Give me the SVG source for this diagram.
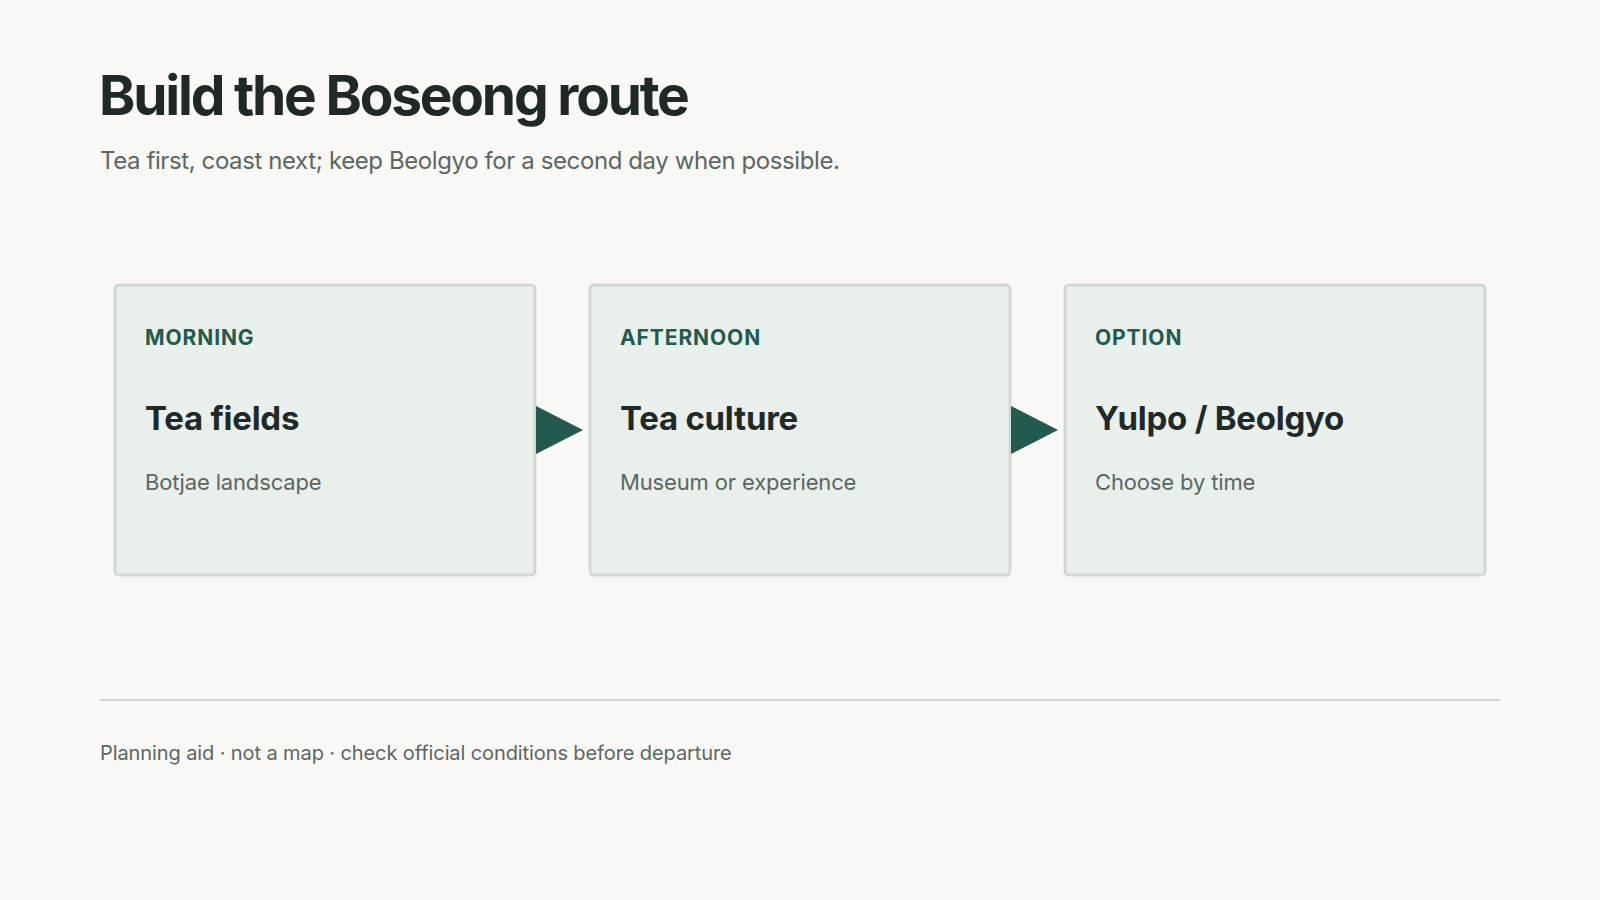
<svg xmlns="http://www.w3.org/2000/svg" width="1600" height="900" viewBox="0 0 1600 900">
<defs>
<style>
.bg{fill:#f9f8f5}
.box{fill:#e9efeb;stroke:#cfdad3;stroke-width:3}
.lab{font-family:Inter,"Liberation Sans",sans-serif;font-weight:700;font-size:21px;letter-spacing:0.9px;fill:#235a4f}
.ttl{font-family:Inter,"Liberation Sans",sans-serif;font-weight:700;font-size:33px;letter-spacing:-0.25px;fill:#1f2a28}
.sub{font-family:Inter,"Liberation Sans",sans-serif;font-weight:400;font-size:22px;letter-spacing:-0.15px;fill:#5b6762}
.arrow{fill:#235a4f}
</style>
</defs>
<rect class="bg" x="0" y="0" width="1600" height="900"/>
<text x="99" y="115" font-family="Inter,'Liberation Sans',sans-serif" font-weight="700" font-size="55" letter-spacing="-2.2" fill="#1f2a28">Build the Boseong route</text>
<text x="100" y="169" font-family="Inter,'Liberation Sans',sans-serif" font-size="24" letter-spacing="-0.4" fill="#5b6762">Tea first, coast next; keep Beolgyo for a second day when possible.</text>
<g id="node-morning">
<rect class="box" x="115" y="285" width="420" height="290" rx="4"/>
<text class="lab" x="145" y="345">MORNING</text>
<text class="ttl" x="145" y="430">Tea fields</text>
<text class="sub" x="145" y="490">Botjae landscape</text>
</g>
<g id="node-afternoon">
<rect class="box" x="590" y="285" width="420" height="290" rx="4"/>
<text class="lab" x="620" y="345">AFTERNOON</text>
<text class="ttl" x="620" y="430">Tea culture</text>
<text class="sub" x="620" y="490">Museum or experience</text>
</g>
<g id="node-option">
<rect class="box" x="1065" y="285" width="420" height="290" rx="4"/>
<text class="lab" x="1095" y="345">OPTION</text>
<text class="ttl" x="1095" y="430">Yulpo / Beolgyo</text>
<text class="sub" x="1095" y="490">Choose by time</text>
</g>
<g id="connectors">
<polygon class="arrow" points="536,406 583,430 536,454"/>
<polygon class="arrow" points="1011,406 1058,430 1011,454"/>
</g>
<line x1="100" y1="700" x2="1500" y2="700" stroke="#cdd8d1" stroke-width="2"/>
<text x="100" y="760" font-family="Inter,'Liberation Sans',sans-serif" font-size="20" letter-spacing="-0.1" fill="#5b6762">Planning aid · not a map · check official conditions before departure</text>
</svg>
